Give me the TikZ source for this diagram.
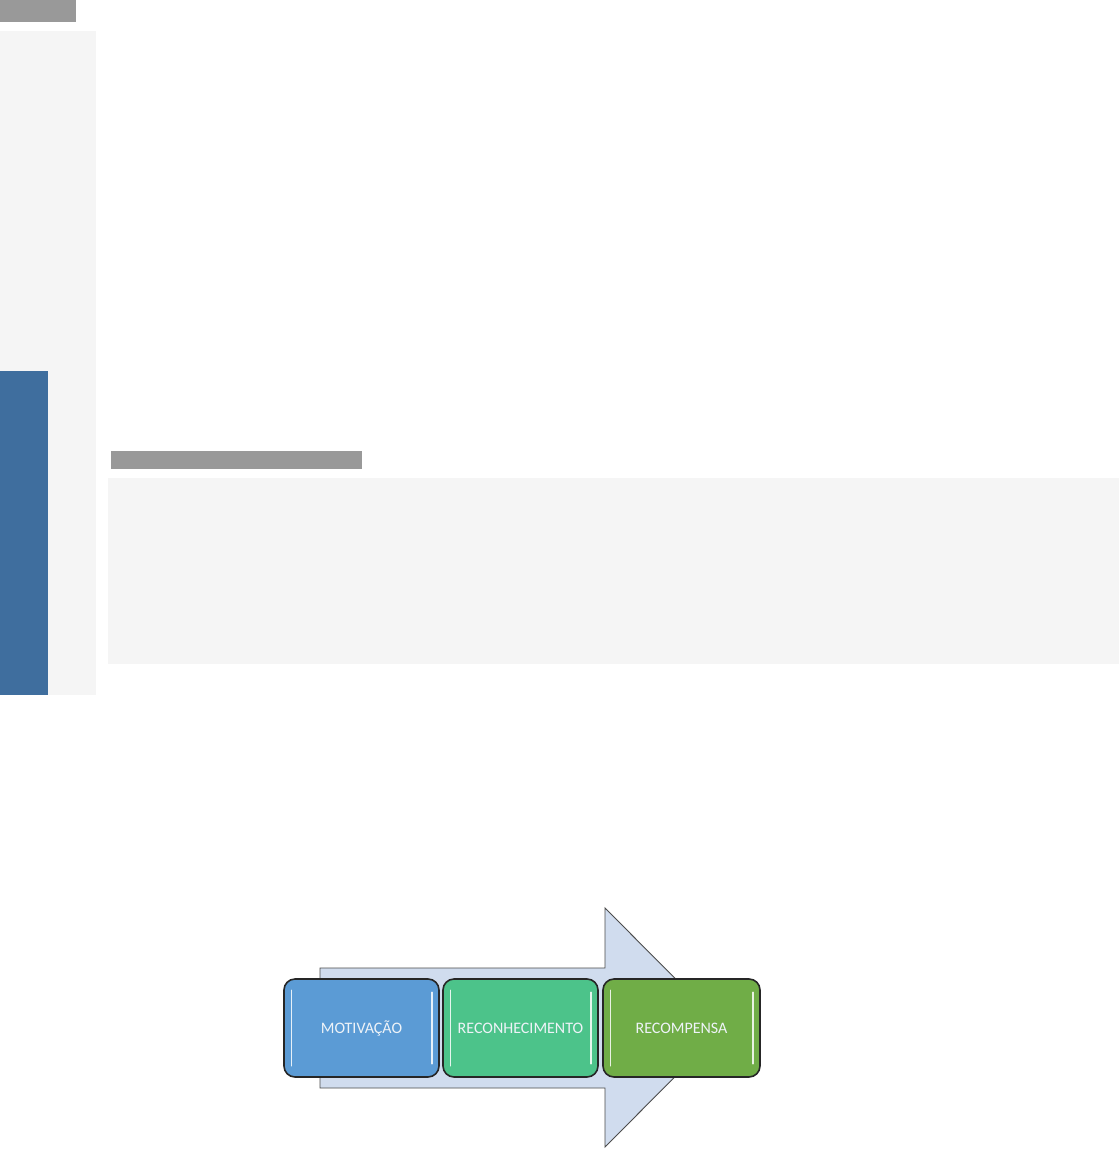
\documentclass[tikz,border=0pt]{standalone}
\usepackage{fontspec}
\setmainfont{Carlito}
\definecolor{barg}{HTML}{999999}
\definecolor{panel}{HTML}{F5F5F5}
\definecolor{sideblue}{HTML}{3F6E9E}
\definecolor{arrowfill}{HTML}{D0DCEE}
\definecolor{boxa}{HTML}{5B9BD5}
\definecolor{boxb}{HTML}{4CC38A}
\definecolor{boxc}{HTML}{70AD47}
\definecolor{txt}{HTML}{EEF3F8}
\tikzset{
  stepbox/.style={draw=black!85, line width=1.6pt, rounded corners=11pt, minimum width=155pt, minimum height=98pt, inner sep=0pt, text=txt, font=\fontsize{16}{19}\selectfont},
  shine/.style={draw=white, line width=1.4pt, opacity=0.85, line cap=round}
}
\begin{document}
\begin{tikzpicture}[x=1pt,y=-1pt]
\useasboundingbox (0,0) rectangle (1119,1152);
\fill[white] (0,0) rectangle (1119,1152);
% top decorations
\fill[barg] (0,0) rectangle (76,22);
\fill[panel] (0,31) rectangle (96,695);
\fill[sideblue] (0,371) rectangle (48,695);
\fill[barg] (111,451) rectangle (362,469);
\fill[panel] (108,478) rectangle (1119,664);
% big arrow
\draw[fill=arrowfill, draw=black!70, line width=0.9pt]
  (320,968) -- (605,968) -- (605,908) -- (724,1027.5) -- (605,1147) -- (605,1088) -- (320,1088) -- cycle;
% boxes
\node[stepbox, fill=boxa] (m) at (361.5,1028) {MOTIVAÇÃO};
\node[stepbox, fill=boxb] (r) at (520.5,1028) {RECONHECIMENTO};
\node[stepbox, fill=boxc, minimum width=157pt] (p) at (681.5,1028) {RECOMPENSA};
% shine lines
\foreach \n in {m,r,p}{
  \draw[shine] ([xshift=8pt,yshift=-12pt]\n.north west) -- ([xshift=8pt,yshift=12pt]\n.south west);
  \draw[shine] ([xshift=-8pt,yshift=-14pt]\n.north east) -- ([xshift=-8pt,yshift=14pt]\n.south east);
}
\end{tikzpicture}
\end{document}
